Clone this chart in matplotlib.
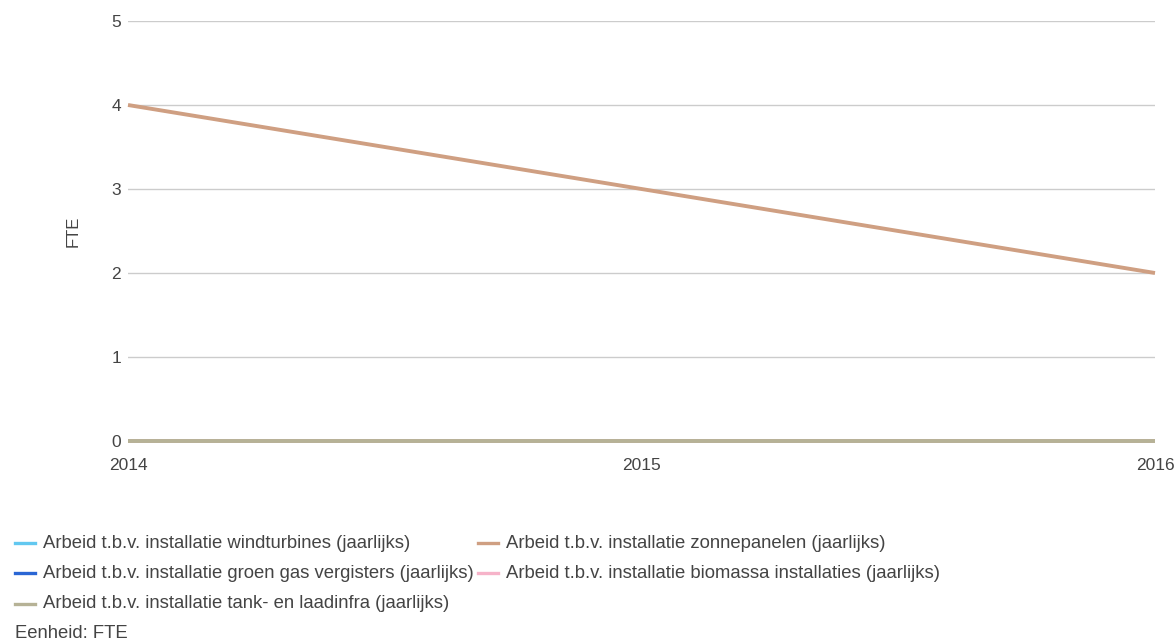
import matplotlib.pyplot as plt
from matplotlib.lines import Line2D

plt.rcParams['font.family'] = ['Liberation Sans', 'DejaVu Sans']

years = [2014, 2015, 2016]
series_names = [
    "Arbeid t.b.v. installatie windturbines (jaarlijks)",
    "Arbeid t.b.v. installatie zonnepanelen (jaarlijks)",
    "Arbeid t.b.v. installatie groen gas vergisters (jaarlijks)",
    "Arbeid t.b.v. installatie biomassa installaties (jaarlijks)",
    "Arbeid t.b.v. installatie tank- en laadinfra (jaarlijks)",
]
windturbines = [0, 0, 0]
zonnepanelen = [4, 3, 2]
groen_gas = [0, 0, 0]
biomassa = [0, 0, 0]
laadinfra = [0, 0, 0]
y_ticks = [0, 1, 2, 3, 4, 5]

colors = ["#62c8f0", "#cf9f82", "#2a66d4", "#f6b3c9", "#b6b296"]
text_color = "#444444"
W, H = 1176, 642

fig = plt.figure(figsize=(W / 100, H / 100), dpi=100)
ax = fig.add_axes([128 / W, 1 - 441 / H, (1155 - 128) / W, 420 / H])

all_series = [windturbines, zonnepanelen, groen_gas, biomassa, laadinfra]
for name, values, c in zip(series_names, all_series, colors):
    ax.plot(years, values, color=c, linewidth=2.8, label=name,
            solid_capstyle='butt', clip_on=False, zorder=3)

ax.set_xlim(2014, 2016)
ax.set_ylim(0, 5)
ax.set_yticks(y_ticks)
ax.set_xticks(years)
ax.set_xticklabels([str(y) for y in years])
ax.grid(axis='y', color='#cccccc', linewidth=1)
ax.set_axisbelow(True)
for s in ax.spines.values():
    s.set_visible(False)
ax.tick_params(axis='both', length=0, labelsize=12.5, colors=text_color)
ax.tick_params(axis='y', pad=5)
ax.tick_params(axis='x', pad=12)
ax.set_ylabel("FTE", fontsize=12, color=text_color, labelpad=22)

# legend: two columns under the chart, filled row by row
col_x = [15, 478]
row_y = [543, 573, 604]
for i, (name, c) in enumerate(zip(series_names, colors)):
    x0 = col_x[i % 2]
    yy = 1 - row_y[i // 2] / H
    fig.add_artist(Line2D([x0 / W, (x0 + 20) / W], [yy, yy], color=c,
                          linewidth=2.4, transform=fig.transFigure))
    fig.text((x0 + 28) / W, yy, name, fontsize=13.3, color=text_color,
             va='center', ha='left')

fig.text(15 / W, 1 - 633 / H, "Eenheid: FTE", fontsize=13.3,
         color=text_color, va='center', ha='left')

fig.savefig("out.png", dpi=100)
